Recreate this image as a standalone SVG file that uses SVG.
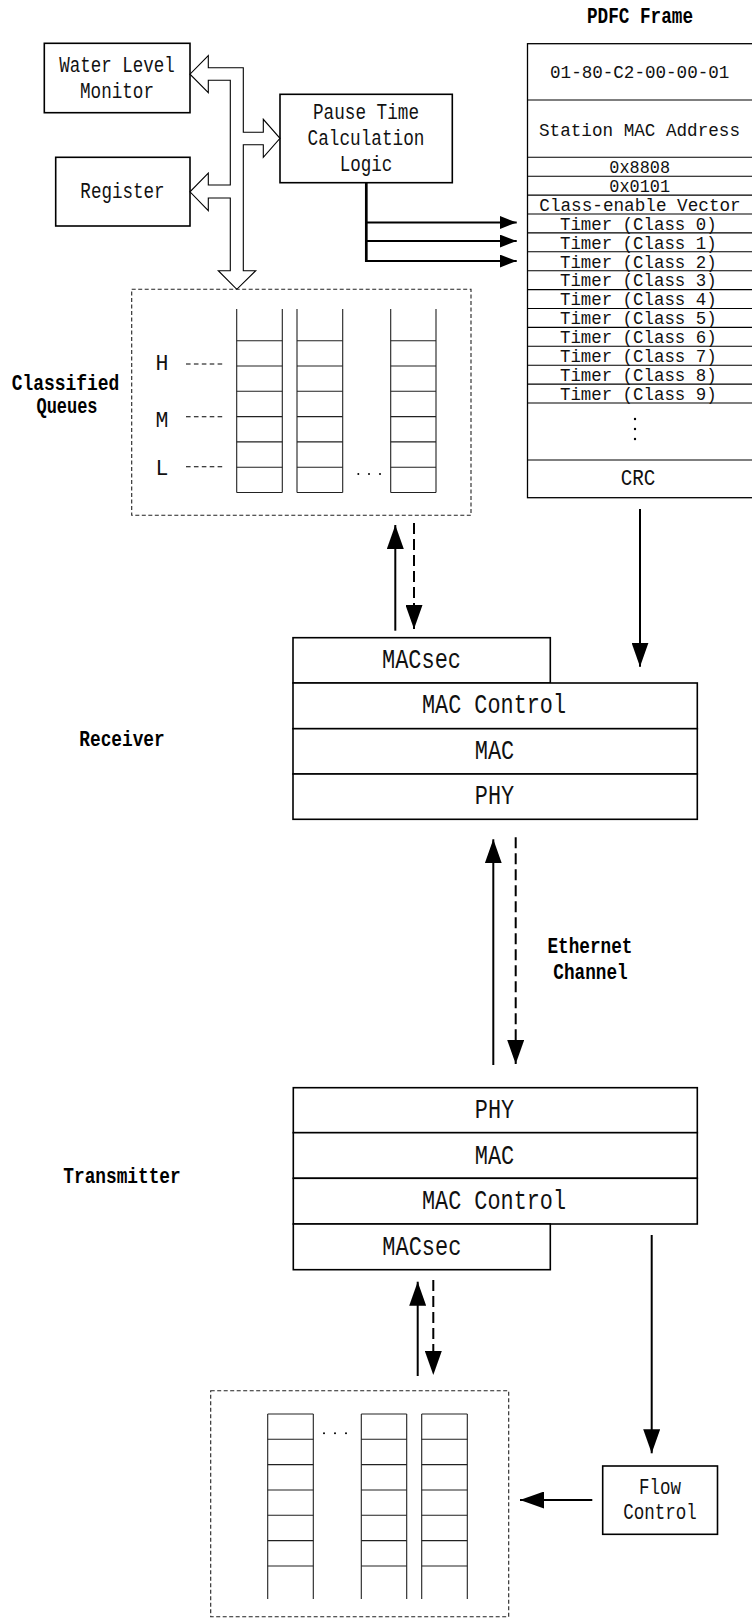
<svg xmlns="http://www.w3.org/2000/svg" width="752" height="1621" viewBox="0 0 752 1621">
<style>
.bx{fill:#fff;stroke:#000;stroke-width:1.6}
.ln{fill:none;stroke:#000;stroke-width:1.1}
.q{fill:none;stroke:#222;stroke-width:1.1}
.dbox{fill:none;stroke:#222;stroke-width:1.1;stroke-dasharray:4,2.5}
.ar{fill:none;stroke:#000;stroke-width:2}
.ard{fill:none;stroke:#000;stroke-width:2;stroke-dasharray:11,5}
.t{font-family:"Liberation Mono",monospace;font-size:21.5px;fill:#111;text-anchor:middle}
.tf{font-family:"Liberation Mono",monospace;font-size:19px;fill:#111;text-anchor:middle}
.tr{font-family:"Liberation Mono",monospace;font-size:18px;fill:#111;text-anchor:middle}
.tl{font-family:"Liberation Mono",monospace;font-size:27px;fill:#111;text-anchor:middle}
.b{font-family:"Liberation Mono",monospace;font-size:22px;font-weight:bold;fill:#000;text-anchor:middle}
.hd{fill:none;stroke:#000;stroke-width:1.1;stroke-dasharray:4.6,3.3}
</style>
<defs>
<marker id="ah" markerUnits="userSpaceOnUse" markerWidth="24" markerHeight="17" refX="24" refY="8.5" orient="auto"><path d="M0,0 L24,8.5 L0,17 z" fill="#000"/></marker>
<marker id="ahs" markerUnits="userSpaceOnUse" markerWidth="17" markerHeight="13" refX="17" refY="6.5" orient="auto"><path d="M0,0 L17,6.5 L0,13 z" fill="#000"/></marker>
</defs>

<g id="water-level-monitor">
<rect class="bx" x="44.3" y="43.3" width="145.7" height="69.4"/>
<text class="t" x="117" y="71.5" textLength="115.5" lengthAdjust="spacingAndGlyphs">Water Level</text>
<text class="t" x="117" y="97.5" textLength="74" lengthAdjust="spacingAndGlyphs">Monitor</text>
</g>
<g id="register">
<rect class="bx" x="55.7" y="157.3" width="134.3" height="68.7"/>
<text class="t" x="122.5" y="198.3" textLength="84.3" lengthAdjust="spacingAndGlyphs">Register</text>
</g>
<g id="pause-time-logic">
<rect class="bx" x="280" y="94.3" width="172.3" height="88.4"/>
<text class="t" x="366" y="119" textLength="106" lengthAdjust="spacingAndGlyphs">Pause Time</text>
<text class="t" x="366" y="145" textLength="117" lengthAdjust="spacingAndGlyphs">Calculation</text>
<text class="t" x="366" y="170.7" textLength="52.7" lengthAdjust="spacingAndGlyphs">Logic</text>
</g>
<g id="bus">
<path d="M230.3,67.7 L243.3,67.7 L243.3,132.3 L263.3,132.3 L263.3,119.3 L280,138.3 L263.3,157.3 L263.3,144.7 L243.3,144.7 L243.3,270.7 L255.7,270.7 L236.8,289.3 L218.3,270.7 L230.3,270.7 L230.3,198 L208.3,198 L208.3,210.7 L190,191.8 L208.3,173 L208.3,185 L230.3,185 L230.3,80.3 L208.3,80.3 L208.3,92.7 L190,74.2 L208.3,55.7 L208.3,67.7 Z" fill="#fff" stroke="#000" stroke-width="1.1"/>
</g>

<g id="pdfc-frame">
<text class="b" x="640" y="22.5" textLength="106" lengthAdjust="spacingAndGlyphs">PDFC Frame</text>
<rect x="527.5" y="43.7" width="240" height="454" fill="#fff" stroke="#000" stroke-width="1.3"/>
<path class="ln" d="M527.5,100H752M527.5,157.3H752M527.5,176.2H752M527.5,195.1H752M527.5,214H752M527.5,232.9H752M527.5,251.8H752M527.5,270.7H752M527.5,289.6H752M527.5,308.5H752M527.5,327.4H752M527.5,346.3H752M527.5,365.2H752M527.5,384.1H752M527.5,403H752M527.5,460H752"/>
<text class="tf" x="639.7" y="78.3" textLength="179.3" lengthAdjust="spacingAndGlyphs">01-80-C2-00-00-01</text>
<text class="tr" x="639.5" y="135.5" textLength="201" lengthAdjust="spacingAndGlyphs">Station MAC Address</text>
<text class="tr" x="639.7" y="173" textLength="60.7" lengthAdjust="spacingAndGlyphs">0x8808</text>
<text class="tr" x="639.7" y="191.9" textLength="60.7" lengthAdjust="spacingAndGlyphs">0x0101</text>
<text class="tr" x="640" y="210.6" textLength="201.4" lengthAdjust="spacingAndGlyphs">Class-enable Vector</text>
<text class="tr" x="638.3" y="229.7" textLength="156.7" lengthAdjust="spacingAndGlyphs">Timer (Class 0)</text>
<text class="tr" x="638.3" y="248.6" textLength="156.7" lengthAdjust="spacingAndGlyphs">Timer (Class 1)</text>
<text class="tr" x="638.3" y="267.5" textLength="156.7" lengthAdjust="spacingAndGlyphs">Timer (Class 2)</text>
<text class="tr" x="638.3" y="286.4" textLength="156.7" lengthAdjust="spacingAndGlyphs">Timer (Class 3)</text>
<text class="tr" x="638.3" y="305.3" textLength="156.7" lengthAdjust="spacingAndGlyphs">Timer (Class 4)</text>
<text class="tr" x="638.3" y="324.2" textLength="156.7" lengthAdjust="spacingAndGlyphs">Timer (Class 5)</text>
<text class="tr" x="638.3" y="343.1" textLength="156.7" lengthAdjust="spacingAndGlyphs">Timer (Class 6)</text>
<text class="tr" x="638.3" y="362" textLength="156.7" lengthAdjust="spacingAndGlyphs">Timer (Class 7)</text>
<text class="tr" x="638.3" y="380.9" textLength="156.7" lengthAdjust="spacingAndGlyphs">Timer (Class 8)</text>
<text class="tr" x="638.3" y="399.8" textLength="156.7" lengthAdjust="spacingAndGlyphs">Timer (Class 9)</text>
<circle cx="635" cy="419" r="1.2" fill="#000"/>
<circle cx="635" cy="429" r="1.2" fill="#000"/>
<circle cx="635" cy="439" r="1.2" fill="#000"/>
<text class="t" x="638" y="485" textLength="34.7" lengthAdjust="spacingAndGlyphs">CRC</text>
</g>

<g id="classified-queues">
<rect class="dbox" x="131.7" y="289.3" width="339.3" height="226"/>
<text class="b" x="65.5" y="389.5" textLength="107.6" lengthAdjust="spacingAndGlyphs">Classified</text>
<text class="b" x="67" y="413" textLength="61" lengthAdjust="spacingAndGlyphs">Queues</text>
<text class="t" x="162" y="370">H</text>
<text class="t" x="162" y="426.7">M</text>
<text class="t" x="162" y="475">L</text>
<path class="hd" d="M186,364H222.3M186,416.7H222.3M186,466.7H222.3"/>
<path class="q" d="M236.7,309V492.5M282.3,309V492.5M297,309V492.5M342.7,309V492.5M390.7,309V492.5M436,309V492.5"/>
<path class="q" d="M236.7,340.7H282.3M297,340.7H342.7M390.7,340.7H436M236.7,366H282.3M297,366H342.7M390.7,366H436M236.7,391.3H282.3M297,391.3H342.7M390.7,391.3H436M236.7,416.6H282.3M297,416.6H342.7M390.7,416.6H436M236.7,441.9H282.3M297,441.9H342.7M390.7,441.9H436M236.7,467.2H282.3M297,467.2H342.7M390.7,467.2H436M236.7,492.5H282.3M297,492.5H342.7M390.7,492.5H436"/>
<circle cx="358.3" cy="474" r="1" fill="#000"/>
<circle cx="369" cy="474" r="1" fill="#000"/>
<circle cx="380" cy="474" r="1" fill="#000"/>
</g>

<g id="receiver">
<text class="b" x="122" y="746" textLength="85.4" lengthAdjust="spacingAndGlyphs">Receiver</text>
<rect class="bx" x="293" y="637.7" width="257.3" height="45.3"/>
<rect class="bx" x="293" y="683" width="404.3" height="45.7"/>
<rect class="bx" x="293" y="728.7" width="404.3" height="45.3"/>
<rect class="bx" x="293" y="774" width="404.3" height="45.3"/>
<text class="tl" x="421.5" y="668" textLength="79" lengthAdjust="spacingAndGlyphs">MACsec</text>
<text class="tl" x="494" y="713" textLength="144" lengthAdjust="spacingAndGlyphs">MAC Control</text>
<text class="tl" x="494.5" y="758.5" textLength="39.5" lengthAdjust="spacingAndGlyphs">MAC</text>
<text class="tl" x="494.5" y="804" textLength="39.3" lengthAdjust="spacingAndGlyphs">PHY</text>
</g>

<g id="ethernet-channel">
<text class="b" x="590" y="953" textLength="85" lengthAdjust="spacingAndGlyphs">Ethernet</text>
<text class="b" x="590.5" y="979" textLength="74.3" lengthAdjust="spacingAndGlyphs">Channel</text>
</g>

<g id="transmitter">
<text class="b" x="122" y="1183" textLength="117.4" lengthAdjust="spacingAndGlyphs">Transmitter</text>
<rect class="bx" x="293.3" y="1087.7" width="404" height="45"/>
<rect class="bx" x="293.3" y="1132.7" width="404" height="45.6"/>
<rect class="bx" x="293.3" y="1178.3" width="404" height="45.7"/>
<rect class="bx" x="293.3" y="1224" width="257" height="45.7"/>
<text class="tl" x="494.5" y="1118.3" textLength="39.3" lengthAdjust="spacingAndGlyphs">PHY</text>
<text class="tl" x="494.5" y="1163.5" textLength="39.5" lengthAdjust="spacingAndGlyphs">MAC</text>
<text class="tl" x="494" y="1209" textLength="144" lengthAdjust="spacingAndGlyphs">MAC Control</text>
<text class="tl" x="421.8" y="1254.5" textLength="79" lengthAdjust="spacingAndGlyphs">MACsec</text>
</g>

<g id="flow-control">
<rect class="bx" x="602.7" y="1466" width="114.8" height="68.3"/>
<text class="t" x="660" y="1494.3" textLength="42" lengthAdjust="spacingAndGlyphs">Flow</text>
<text class="t" x="660" y="1518.7" textLength="73.7" lengthAdjust="spacingAndGlyphs">Control</text>
</g>

<g id="tx-queues">
<rect class="dbox" x="210.7" y="1390.7" width="298" height="226"/>
<path class="q" d="M267.7,1414V1599M313.3,1414V1599M361.3,1414V1599M406.7,1414V1599M421.7,1414V1599M467.3,1414V1599"/>
<path class="q" d="M267.7,1414H313.3M361.3,1414H406.7M421.7,1414H467.3M267.7,1439.3H313.3M361.3,1439.3H406.7M421.7,1439.3H467.3M267.7,1464.6H313.3M361.3,1464.6H406.7M421.7,1464.6H467.3M267.7,1490H313.3M361.3,1490H406.7M421.7,1490H467.3M267.7,1515.3H313.3M361.3,1515.3H406.7M421.7,1515.3H467.3M267.7,1540.6H313.3M361.3,1540.6H406.7M421.7,1540.6H467.3M267.7,1566H313.3M361.3,1566H406.7M421.7,1566H467.3"/>
<circle cx="324" cy="1433.3" r="1" fill="#000"/>
<circle cx="335" cy="1433.3" r="1" fill="#000"/>
<circle cx="346" cy="1433.3" r="1" fill="#000"/>
</g>

<g id="connectors">
<path d="M366.3,182.7V262" fill="none" stroke="#000" stroke-width="2.7"/>
<path class="ar" d="M366.3,222.5H516.7" marker-end="url(#ahs)"/>
<path class="ar" d="M366.3,241H516.7" marker-end="url(#ahs)"/>
<path class="ar" d="M366.3,261H516.7" marker-end="url(#ahs)"/>
<path class="ar" d="M640,509V666.7" marker-end="url(#ah)"/>
<path class="ar" d="M395.3,630.7V525" marker-end="url(#ah)"/>
<path class="ard" d="M414,523V629" marker-end="url(#ah)"/>
<path class="ar" d="M493.3,1065V839.3" marker-end="url(#ah)"/>
<path class="ard" d="M515.7,837.3V1064" marker-end="url(#ah)"/>
<path class="ar" d="M417.7,1376V1281.7" marker-end="url(#ah)"/>
<path class="ard" d="M433.3,1280V1375" marker-end="url(#ah)"/>
<path class="ar" d="M651.7,1235V1453.3" marker-end="url(#ah)"/>
<path class="ar" d="M592.3,1500H520" marker-end="url(#ah)"/>
</g>
</svg>
